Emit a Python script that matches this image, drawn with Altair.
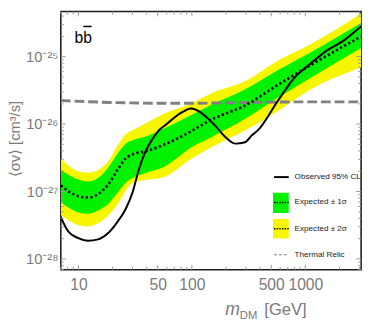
import altair as alt
import pandas as pd

# ---------------- data (log10 of <sigma v> in cm^3/s) ----------------
band_mass = [7, 10, 12.2, 14.9, 18.2, 22.1, 26.1, 30, 40, 56, 100, 150, 290, 570, 1100, 3100]
band_2s_hi = [-26.51, -26.70, -26.72, -26.68, -26.56, -26.32, -26.15, -26.09, -25.98, -25.85, -25.69, -25.54, -25.37, -25.06, -24.82, -24.36]
band_1s_hi = [-26.68, -26.82, -26.85, -26.80, -26.65, -26.44, -26.29, -26.24, -26.18, -26.07, -25.86, -25.71, -25.49, -25.20, -24.94, -24.50]
band_median = [-26.91, -27.07, -27.09, -27.04, -26.90, -26.68, -26.51, -26.45, -26.40, -26.31, -26.10, -25.93, -25.73, -25.42, -25.13, -24.70]
band_1s_lo = [-27.16, -27.31, -27.33, -27.28, -27.19, -27.02, -26.87, -26.80, -26.72, -26.64, -26.34, -26.19, -25.93, -25.61, -25.32, -24.87]
band_2s_lo = [-27.35, -27.50, -27.52, -27.47, -27.36, -27.19, -26.99, -26.87, -26.83, -26.79, -26.51, -26.34, -26.10, -25.81, -25.49, -25.16]

obs_mass = [7, 8.2, 10, 12.2, 14.9, 18.2, 22.1, 26.1, 29.9, 34, 38.9, 45.9, 50.7, 60, 73, 83, 98, 120, 141, 162, 197, 243, 294, 336, 383, 570, 794, 1100, 1540, 2140, 3100]
obs_log = [-27.38, -27.60, -27.69, -27.73, -27.71, -27.62, -27.45, -27.26, -27.02, -26.68, -26.41, -26.20, -26.10, -26.00, -25.88, -25.82, -25.77, -25.83, -25.93, -26.03, -26.19, -26.29, -26.27, -26.17, -26.09, -25.66, -25.32, -25.11, -24.91, -24.77, -24.55]

relic_mass = [7, 20, 50, 100, 300, 1000, 3100]
relic_log = [-25.65, -25.68, -25.69, -25.69, -25.68, -25.67, -25.67]

x_tick_values = [10, 50, 100, 500, 1000]
y_tick_values = [1e-28, 1e-27, 1e-26, 1e-25]
y_tick_labels = ["10⁻²⁸", "10⁻²⁷", "10⁻²⁶", "10⁻²⁵"]

legend_labels = ["Observed 95% CL", "Expected ± 1σ", "Expected ± 2σ", "Thermal Relic"]

# ---------------- tables ----------------
p = lambda v: 10 ** v
band_df = pd.DataFrame({
    "m": band_mass,
    "y2hi": [p(v) for v in band_2s_hi],
    "y1hi": [p(v) for v in band_1s_hi],
    "med": [p(v) for v in band_median],
    "y1lo": [p(v) for v in band_1s_lo],
    "y2lo": [p(v) for v in band_2s_lo],
})
obs_df = pd.DataFrame({"m": obs_mass, "s": [p(v) for v in obs_log]})
relic_df = pd.DataFrame({"m": relic_mass, "s": [p(v) for v in relic_log]})

W, H = 307, 264
X_DOMAIN = [7, 3100]
Y_DOMAIN = [10 ** -28.16, 10 ** -24.33]
xs = alt.Scale(type="log", domain=X_DOMAIN, nice=False)
ys = alt.Scale(type="log", domain=Y_DOMAIN, nice=False)

FONT = "Liberation Sans"
GRAY = "#7a7a7a"

label_expr = " : ".join(
    f"datum.value < {v * 3:.3e} ? '{lab}'" for v, lab in zip(y_tick_values, y_tick_labels)
) + " : ''"

x_axis = alt.Axis(values=x_tick_values, format="d", labelFontSize=16, labelColor=GRAY,
                  labelFont=FONT, labelPadding=7, ticks=False, domain=False, grid=False,
                  labelFlush=False)
y_axis = alt.Axis(values=y_tick_values, labelExpr=label_expr, labelFontSize=15, labelColor=GRAY,
                  labelFont=FONT, labelPadding=3, ticks=False, domain=False, grid=False,
                  labelFlush=False,
                  title="⟨σv⟩  [cm³/s]", titleAngle=270, titleX=-47, titleY=130,
                  titleAlign="center", titleBaseline="middle", titleFontSize=15,
                  titleColor=GRAY, titleFontWeight="normal", titleFont=FONT)


def X(field="m"):
    return alt.X(f"{field}:Q", scale=xs, axis=x_axis, title=None)


def Y(field):
    return alt.Y(f"{field}:Q", scale=ys, axis=y_axis)


band = alt.Chart(band_df)
yellow = band.mark_area(color="#F8F500", interpolate="monotone", clip=True).encode(
    x=X(), y=Y("y2hi"), y2="y2lo:Q")
green = band.mark_area(color="#00F200", interpolate="monotone", clip=True).encode(
    x=X(), y=Y("y1hi"), y2="y1lo:Q")
relic = alt.Chart(relic_df).mark_line(color="#808080", strokeWidth=3, strokeDash=[10, 4],
                                      interpolate="monotone", clip=True).encode(x=X(), y=Y("s"))
median = band.mark_line(color="black", strokeWidth=2.6, strokeDash=[2.3, 2.5],
                        interpolate="monotone", clip=True).encode(x=X(), y=Y("med"))
observed = alt.Chart(obs_df).mark_line(color="black", strokeWidth=2,
                                       interpolate="monotone", clip=True).encode(x=X(), y=Y("s"))

# ---------------- inner ticks ----------------
x_minor = [m * 10 ** d for d in range(0, 4) for m in range(1, 10)
           if X_DOMAIN[0] <= m * 10 ** d <= X_DOMAIN[1] and m * 10 ** d not in x_tick_values]
y_minor = [m * 10.0 ** d for d in range(-29, -24) for m in range(2, 10)
           if Y_DOMAIN[0] <= m * 10.0 ** d <= Y_DOMAIN[1]]
xt_major = pd.DataFrame({"m": x_tick_values})
xt_minor = pd.DataFrame({"m": x_minor})
yt_major = pd.DataFrame({"s": y_tick_values})
yt_minor = pd.DataFrame({"s": y_minor})
TC = "#9a9a9a"
tick_layers = []
for df, ln in ((xt_major, 5), (xt_minor, 3)):
    tick_layers.append(alt.Chart(df).mark_rule(color=TC, strokeWidth=1).encode(
        x=X(), y=alt.value(H), y2=alt.value(H - ln)))
    tick_layers.append(alt.Chart(df).mark_rule(color=TC, strokeWidth=1).encode(
        x=X(), y=alt.value(0), y2=alt.value(ln)))
for df, ln in ((yt_major, 5), (yt_minor, 3)):
    tick_layers.append(alt.Chart(df).mark_rule(color=TC, strokeWidth=1).encode(
        y=Y("s"), x=alt.value(0), x2=alt.value(ln)))
    tick_layers.append(alt.Chart(df).mark_rule(color=TC, strokeWidth=1).encode(
        y=Y("s"), x=alt.value(W), x2=alt.value(W - ln)))

# ---------------- annotations / legend ----------------
one = alt.Chart(pd.DataFrame({"a": [0]}))
bb_text = one.mark_text(align="left", baseline="alphabetic", font=FONT, fontSize=16,
                        color="black").encode(x=alt.value(14), y=alt.value(32), text=alt.value("bb"))
bb_bar = one.mark_rule(color="black", strokeWidth=1.5).encode(
    x=alt.value(23), x2=alt.value(31.5), y=alt.value(15.3))

LF = "Liberation Sans"
LX0, LX1, TX = 218, 233, 239
leg_y = [169.3, 195.3, 222.0, 248.7]
legend = [
    one.mark_rule(color="black", strokeWidth=2).encode(
        x=alt.value(LX0), x2=alt.value(LX1), y=alt.value(leg_y[0])),
    one.mark_rect(color="#00F200").encode(
        x=alt.value(217), x2=alt.value(233), y=alt.value(185.3), y2=alt.value(206)),
    one.mark_rule(color="black", strokeWidth=1.5, strokeDash=[1.5, 1.2]).encode(
        x=alt.value(LX0), x2=alt.value(LX1), y=alt.value(leg_y[1])),
    one.mark_rect(color="#F8F500").encode(
        x=alt.value(217), x2=alt.value(233), y=alt.value(212), y2=alt.value(232)),
    one.mark_rule(color="black", strokeWidth=1.5, strokeDash=[1.5, 1.2]).encode(
        x=alt.value(LX0), x2=alt.value(LX1), y=alt.value(leg_y[2])),
    one.mark_rule(color="#808080", strokeWidth=1.2, strokeDash=[3, 2]).encode(
        x=alt.value(LX0), x2=alt.value(LX1), y=alt.value(leg_y[3])),
]
for lab, yy in zip(legend_labels, leg_y):
    legend.append(one.mark_text(align="left", baseline="middle", font=LF, fontSize=8.3,
                                color="#222222").encode(
        x=alt.value(TX), y=alt.value(yy), text=alt.value(lab)))

xt_m = one.mark_text(align="left", baseline="alphabetic", font=FONT, fontSize=18,
                     fontStyle="italic", color=GRAY).encode(
    x=alt.value(168), y=alt.value(310), text=alt.value("m"))
xt_dm = one.mark_text(align="left", baseline="alphabetic", font=FONT, fontSize=11.5,
                      color=GRAY).encode(x=alt.value(183), y=alt.value(314), text=alt.value("DM"))
xt_gev = one.mark_text(align="left", baseline="alphabetic", font=FONT, fontSize=17,
                       color=GRAY).encode(x=alt.value(208), y=alt.value(310), text=alt.value("[GeV]"))

chart = alt.layer(
    yellow, green, relic, median, observed, *tick_layers, bb_text, bb_bar, *legend,
    xt_m, xt_dm, xt_gev,
).properties(
    width=W, height=H,
    autosize=alt.AutoSizeParams(type="none"),
    padding={"left": 54, "top": 0, "right": 5, "bottom": 56},
).configure_view(stroke="#1e1e1e", strokeWidth=1.6)

chart.save("out.html", embed_options={"renderer": "svg", "actions": False})
